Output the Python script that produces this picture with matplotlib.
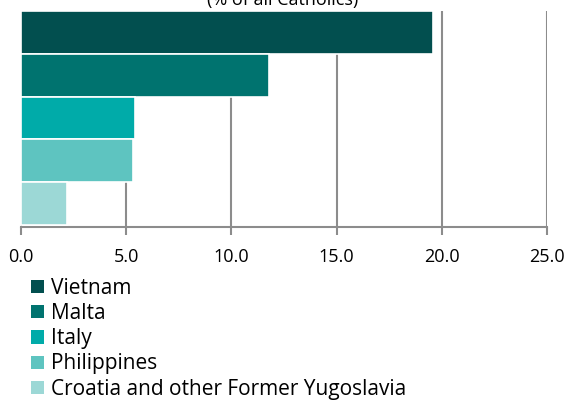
import matplotlib.pyplot as plt
from matplotlib.patches import Patch

countries = ['Vietnam', 'Malta', 'Italy', 'Philippines',
             'Croatia and other Former Yugoslavia']
values = [19.6, 11.8, 5.4, 5.3, 2.2]
colors = ['#024f4f', '#00736f', '#00aba9', '#5ec4c0', '#9cd8d6']
xticks = [0, 5, 10, 15, 20, 25]

plt.rcParams['font.family'] = ['Open Sans', 'DejaVu Sans']

fig = plt.figure(figsize=(5.68, 4.01), dpi=100)
ax = fig.add_axes([21 / 568, 1 - 227 / 401, 526 / 568, 216 / 401])

ax.barh(range(len(values)), values, height=1.0, color=colors,
        edgecolor='white', linewidth=1.2, zorder=3)

ax.set_xlim(0, 25)
ax.set_ylim(4.55, -0.5)
ax.set_xticks(xticks)
ax.set_xticklabels(['%.1f' % t for t in xticks], fontsize=13)
ax.set_yticks([])
ax.grid(axis='x', color='#8c8c8c', linewidth=1.5, zorder=0)
ax.tick_params(axis='x', direction='out', length=6, width=1.5,
               color='#8c8c8c', pad=9)
for s in ['top', 'right', 'left']:
    ax.spines[s].set_visible(False)
ax.spines['bottom'].set_color('#8c8c8c')
ax.spines['bottom'].set_linewidth(1.5)

# title is partly cut off at the top edge, as in the source
fig.text(283 / 568, 1 - 9 / 401, '(% of all Catholics)', ha='center',
         va='bottom', fontsize=13)

handles = [Patch(facecolor=c, edgecolor='none') for c in colors]
fig.legend(handles, countries, loc='upper left',
           bbox_to_anchor=(31 / 568, 1 - 278 / 401), frameon=False,
           fontsize=15, handlelength=0.6, handleheight=0.6,
           handletextpad=0.35, labelspacing=0.2, borderaxespad=0,
           borderpad=0)

fig.savefig('out.png', dpi=100)
